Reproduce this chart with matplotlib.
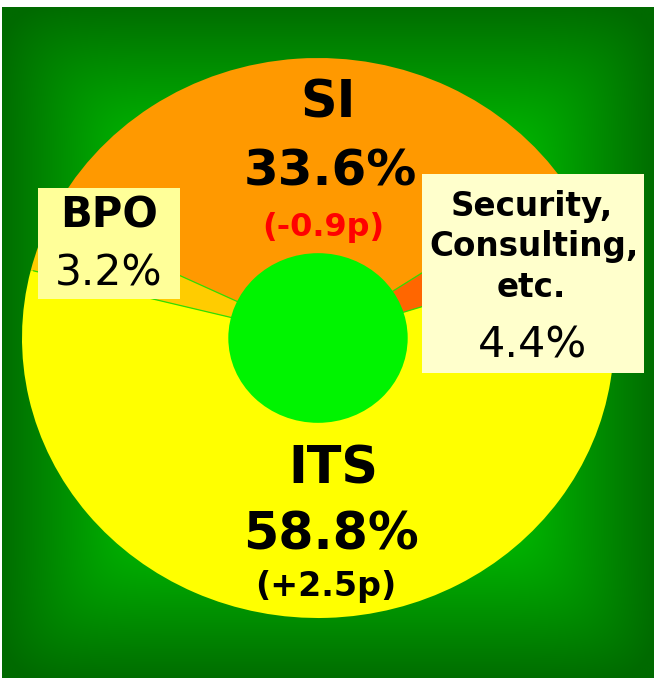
import numpy as np
import matplotlib
matplotlib.use("Agg")
import matplotlib.pyplot as plt
from matplotlib.patches import Rectangle, Circle

# ---- data ----
categories = ["SI", "BPO", "ITS", "Security,\nConsulting,\netc."]
shares = [33.6, 3.2, 58.8, 4.4]
changes = ["(-0.9p)", None, "(+2.5p)", None]
slice_colors = ["#FF9900", "#FFCC00", "#FFFF00", "#FF6600"]

W, H = 654, 678
fig = plt.figure(figsize=(W / 100, H / 100), dpi=100, facecolor="white")

# ---- background with rectangular gradient ----
bg = fig.add_axes([0, 0, 1, 1])
bg.set_xlim(0, W)
bg.set_ylim(H, 0)
bg.axis("off")
x0, x1, y0, y1 = 2, 654, 7, 678
xs = np.linspace(x0, x1, 500)
ys = np.linspace(y0, y1, 500)
X, Y = np.meshgrid(xs, ys)
cx, cy = (x0 + x1) / 2, (y0 + y1) / 2
u = np.abs(X - cx) / ((x1 - x0) / 2)
v = np.abs(Y - cy) / ((y1 - y0) / 2)
t = (u ** 12 + v ** 12) ** (1 / 12)
g = np.clip(110 + 180 * (1 - t), 106, 255) / 255
img = np.zeros(X.shape + (3,))
img[..., 1] = g
bg.imshow(img, extent=(x0, x1, y1, y0), aspect="auto", interpolation="bilinear", zorder=0)

# ---- pie ----
pcx, pcy, rx, ry = 318, 338, 296, 280
pax = fig.add_axes([(pcx - rx) / W, (H - pcy - ry) / H, 2 * rx / W, 2 * ry / H])
wedges, _ = pax.pie(shares, colors=slice_colors, startangle=33.5, counterclock=True,
                    wedgeprops=dict(edgecolor="none", linewidth=0))
pax.set_aspect("auto")
pax.set_xlim(-1, 1)
pax.set_ylim(-1, 1)
pax.axis("off")
for w in wedges:
    a = np.deg2rad(w.theta1)
    pax.plot([0, 0.99 * np.cos(a)], [0, 0.99 * np.sin(a)], color="#33DD00", lw=0.9, zorder=4)
pax.add_patch(Circle((0, 0), 0.303, facecolor="#00F400", edgecolor="none", zorder=5))

# ---- labels overlay ----
ov = fig.add_axes([0, 0, 1, 1])
ov.set_xlim(0, W)
ov.set_ylim(H, 0)
ov.axis("off")
ov.patch.set_alpha(0)

bold = dict(fontweight="bold", family="DejaVu Sans", ha="center", va="baseline")
reg = dict(family="DejaVu Sans", ha="center", va="baseline")

# SI
ov.text(328, 117, categories[0], fontsize=36.5, **bold)
ov.text(330, 185, f"{shares[0]}%", fontsize=36, **bold)
ov.text(323.5, 236, changes[0], fontsize=23, color="#FF0000", **bold)

# ITS
ov.text(333, 484, categories[2], fontsize=36.5, **bold)
ov.text(331, 549, f"{shares[2]}%", fontsize=36.5, **bold)
ov.text(325.5, 596, changes[2], fontsize=24, color="black", **bold)

# BPO box
ov.add_patch(Rectangle((38, 188), 142, 111, facecolor="#FFFF99", edgecolor="none"))
ov.text(109, 228, categories[1], fontsize=30, **bold)
ov.text(109, 285, f"{shares[1]}%", fontsize=30.5, **reg)

# Security box
ov.add_patch(Rectangle((422, 174), 222, 199, facecolor="#FFFFCC", edgecolor="none"))
sec_lines = categories[3].split("\n")
for line, yb, xc in zip(sec_lines, [216, 256, 297], [532, 534, 531.5]):
    ov.text(xc, yb, line, fontsize=23.5, **bold)
ov.text(533, 357, f"{shares[3]}%", fontsize=31, **reg)

fig.savefig("out.png", dpi=100, facecolor="white")
